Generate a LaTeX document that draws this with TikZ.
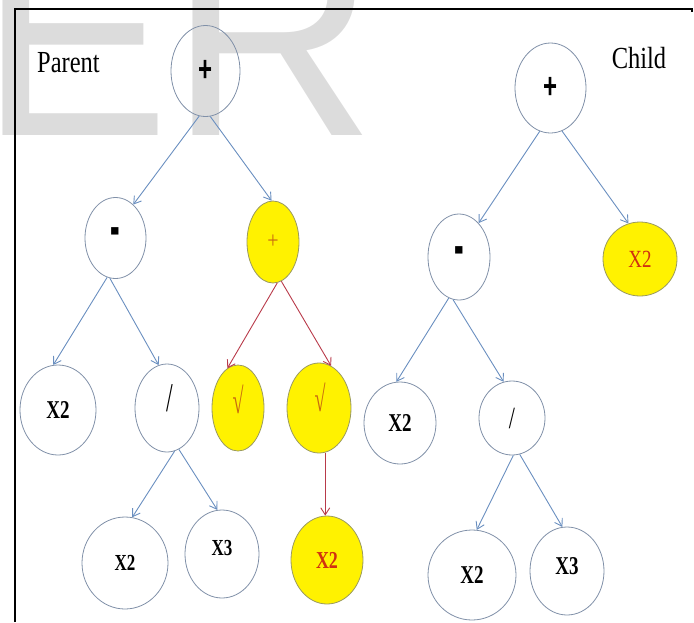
\documentclass[tikz,border=0pt]{standalone}
\usepackage{fontspec}
\setmainfont{Liberation Serif}
\newfontfamily\wmfont{Liberation Sans}
\newfontfamily\sansb{Liberation Sans}
\usetikzlibrary{shapes.geometric,arrows.meta}
\definecolor{wmc}{HTML}{DCDCDC}
\definecolor{ndc}{HTML}{8090A8}
\definecolor{yelc}{HTML}{9A9A60}
\definecolor{arb}{HTML}{6A8FC0}
\definecolor{arr}{HTML}{B83A4A}
\definecolor{orng}{HTML}{C86A10}
\definecolor{redt}{HTML}{D03010}
\newcommand\tallx[2]{\scalebox{1}[#1]{#2}}
\newcommand\bx[1]{{\bfseries\fontsize{19}{19}\selectfont\tallx{1.35}{#1}}}
\newcommand\mns{{\sansb\bfseries\fontsize{24}{24}\selectfont\scalebox{1.2}[2.6]{-}}}
\tikzset{
  nd/.style={ellipse, draw=ndc, line width=0.8pt, inner sep=0pt},
  yel/.style={ellipse, draw=yelc, fill=yellow, line width=0.8pt, inner sep=0pt},
  ar/.style={draw=arb, line width=0.9pt, -{Straight Barb[length=7pt,width=9pt]}},
  rar/.style={draw=arr, line width=0.9pt, -{Straight Barb[length=7pt,width=9pt]}},
  lbl/.style={inner sep=0pt, font=\fontsize{24.5}{24.5}\selectfont},
  sz/.style 2 args={minimum width=#1pt, minimum height=#2pt}
}
\begin{document}
\begin{tikzpicture}[x=1pt,y=-1pt]
\useasboundingbox (0,0) rectangle (694,622);
\begin{scope}
\clip (0,0) rectangle (694,622);
\node[anchor=base west, inner sep=0pt, text=wmc] (wm) at (-21,135) {\wmfont\fontsize{286}{286}\selectfont ER};
\end{scope}
\draw[black, line width=2pt] (15,622) -- (15,9) -- (692,9) -- (692,12);

% labels
\node[lbl] (parent) at (68.5,63) {\tallx{1.25}{Parent}};
\node[lbl] (child) at (639,58.5) {\tallx{1.25}{Child}};

% Parent tree
\node[nd, sz={69}{91}] (p) at (205.5,71) {\sansb\bfseries\fontsize{24}{24}\selectfont\tallx{1.5}{+}};
\node[nd, sz={61}{81}] (pm) at (115.5,238) {\mns};
\node[yel, sz={52}{82}] (pp) at (273,242) {\color{orng}\fontsize{20}{20}\selectfont\tallx{1.2}{+}};
\node[nd, sz={76}{90}] (px2) at (58,410) {\bx{X2}};
\node[nd, sz={64}{88}] (pd) at (167,408) {};
\node[inner sep=0pt] (pdt) at (169.5,398) {\fontsize{24}{24}\selectfont\tallx{1.7}{/}};
\node[yel, sz={52}{86}] (ps1) at (238,408) {};
\node[inner sep=0pt] (ps1t) at (238,399) {\color{orng}\fontsize{20}{20}\selectfont\tallx{1.8}{√}};
\node[yel, sz={64}{90}] (ps2) at (319,408) {};
\node[inner sep=0pt] (ps2t) at (320,397) {\color{orng}\fontsize{20}{20}\selectfont\tallx{1.8}{√}};
\node[nd, sz={86}{92}] (px2b) at (125,563) {{\bfseries\fontsize{17}{17}\selectfont\tallx{1.35}{X2}}};
\node[nd, sz={74}{88}] (px3) at (222,554) {};
\node[inner sep=0pt] (px3t) at (222,548) {{\bfseries\fontsize{17}{17}\selectfont\tallx{1.35}{X3}}};
\node[yel, sz={72}{88}] (py2) at (327,560) {\color{redt}\bfseries\fontsize{18}{18}\selectfont\tallx{1.35}{X2}};

\draw[ar] (p.262) -- (pm.62);
\draw[ar] (p.276) -- (pp.92);
\draw[ar] (pm.258) -- (px2.96);
\draw[ar] (pm.262) -- (pd.101);
\draw[rar] (pp.276) -- (ps1.105);
\draw[rar] (pp.282) -- (ps2.74);
\draw[rar] (ps2.278) -- (ps2.278 |- py2.north);
\draw[ar] (pd.280) -- (px2b.81);
\draw[ar] (pd.286) -- (px3.96);

% Child tree
\node[nd, sz={71}{90}] (c) at (550.5,88) {\sansb\bfseries\fontsize{24}{24}\selectfont\tallx{1.5}{+}};
\node[nd, sz={62}{86}] (cm) at (459,257) {\mns};
\node[yel, sz={74}{74}] (cy2) at (640,259) {\color{redt}\fontsize{19}{19}\selectfont\tallx{1.3}{X2}};
\node[nd, sz={72}{82}] (cx2) at (400,423) {\bx{X2}};
\node[nd, sz={66}{74}] (cd) at (512,418) {\fontsize{22}{22}\selectfont\tallx{1.4}{/}};
\node[nd, sz={88}{90}] (cx2b) at (472,575) {\bx{X2}};
\node[nd, sz={74}{88}] (cx3) at (567,571) {};
\node[inner sep=0pt] (cx3t) at (567,566) {\bx{X3}};

\draw[ar] (c.256) -- (cm.60);
\draw[ar] (c.285) -- (cy2.108);
\draw[ar] (cm.256) -- (cx2.95);
\draw[ar] (cm.262) -- (cd.103);
\draw[ar] (cd.272) -- (cx2b.84);
\draw[ar] (cd.282) -- (cx3.96);
\end{tikzpicture}
\end{document}
